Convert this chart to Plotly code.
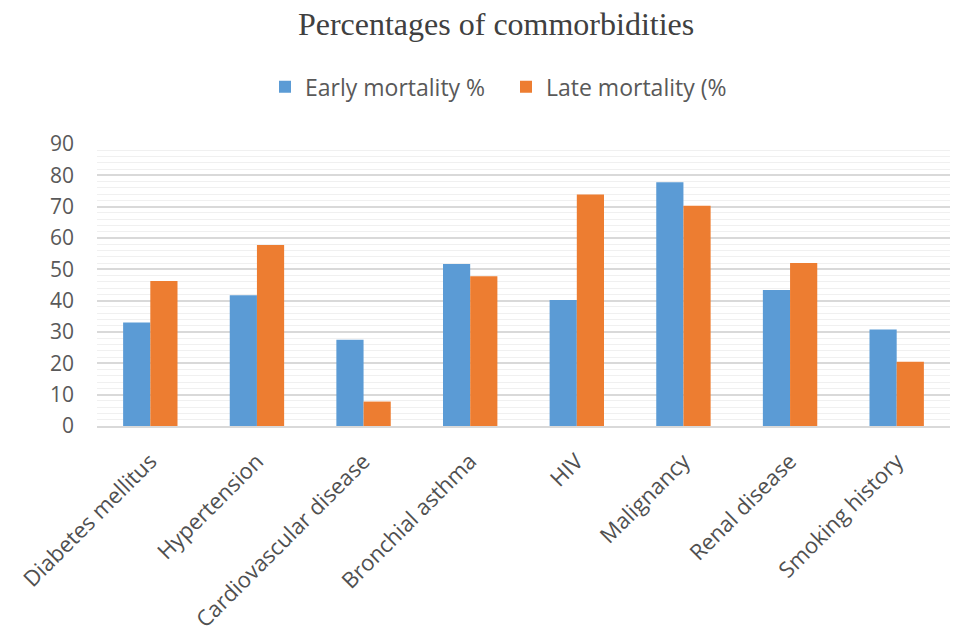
import plotly.graph_objects as go

categories = ["Diabetes mellitus", "Hypertension", "Cardiovascular disease", "Bronchial asthma",
              "HIV", "Malignancy", "Renal disease", "Smoking history"]
early = [33, 41.7, 27.5, 51.7, 40.2, 77.8, 43.4, 30.8]
late = [46.3, 57.8, 7.8, 47.8, 73.9, 70.3, 52, 20.5]
y_ticks = [0, 10, 20, 30, 40, 50, 60, 70, 80, 90]

fig = go.Figure()
fig.add_trace(go.Bar(x=categories, y=early, name="Early mortality %", marker_color="#5B9BD5",
                     marker_line_width=0))
fig.add_trace(go.Bar(x=categories, y=late, name="Late mortality (%", marker_color="#ED7D31",
                     marker_line_width=0))

fig.update_layout(
    width=954, height=632,
    paper_bgcolor="white", plot_bgcolor="white",
    margin=dict(l=97, r=4, t=144, b=206),
    barmode="group", bargap=0.49, bargroupgap=0,
    title=dict(text="Percentages of commorbidities", x=0.52, xanchor="center", y=0.962, yanchor="middle",
               font=dict(family="Liberation Serif, DejaVu Serif, serif", size=32, color="#404040")),
    legend=dict(orientation="h", x=(265 - 97) / 853, xanchor="left", y=1.203, yanchor="middle",
                font=dict(family="Open Sans, sans-serif", size=23, color="#595959"),
                itemwidth=30, entrywidth=196, traceorder="normal"),
    font=dict(family="Open Sans, sans-serif", color="#595959"),
)
fig.update_yaxes(range=[0, 90], tickvals=y_ticks, showgrid=True, gridcolor="#d9d9d9", gridwidth=1.5,
                 zeroline=False, showline=False, ticks="", automargin=False,
                 tickfont=dict(size=21, color="#595959"), ticklabelstandoff=22,
                 minor=dict(dtick=2, showgrid=True, gridcolor="#f0f0f0", gridwidth=1))
fig.update_xaxes(showline=True, linecolor="#d9d9d9", linewidth=1.5, ticks="", tickangle=-45,
                 automargin=False,
                 tickfont=dict(size=22, color="#505050"), ticklabelstandoff=12)

fig.write_html("out.html")
